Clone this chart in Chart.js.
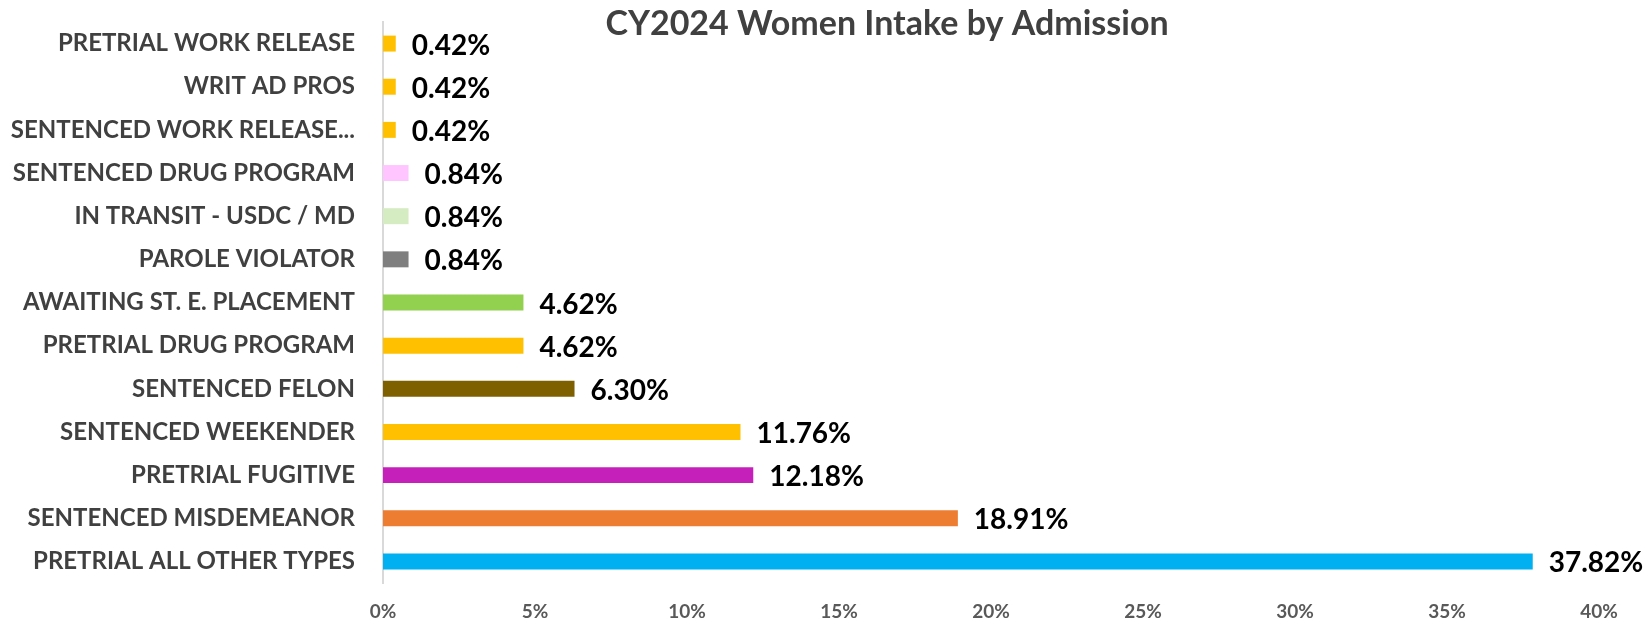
<!DOCTYPE html>
<html>
<head>
<meta charset="utf-8">
<script src="https://cdn.jsdelivr.net/npm/chart.js@4.4.1/dist/chart.umd.min.js"></script>
<style>
  html, body { margin: 0; padding: 0; background: #ffffff; }
  #wrap { position: relative; width: 1650px; height: 625px; }
</style>
</head>
<body>
<div id="wrap"><canvas id="c" width="1650" height="625"></canvas></div>
<script>
const chartTitle = 'CY2024 Women Intake by Admission';
const categories = [
  'PRETRIAL WORK RELEASE',
  'WRIT AD PROS',
  'SENTENCED WORK RELEASE...',
  'SENTENCED DRUG PROGRAM',
  'IN TRANSIT - USDC / MD',
  'PAROLE VIOLATOR',
  'AWAITING ST. E. PLACEMENT',
  'PRETRIAL DRUG PROGRAM',
  'SENTENCED FELON',
  'SENTENCED WEEKENDER',
  'PRETRIAL FUGITIVE',
  'SENTENCED MISDEMEANOR',
  'PRETRIAL ALL OTHER TYPES'
];
const percentValues = [0.42, 0.42, 0.42, 0.84, 0.84, 0.84, 4.62, 4.62, 6.30, 11.76, 12.18, 18.91, 37.82];
const barColors = [
  '#FFC000', '#FFC000', '#FFC000', '#FFC5FF', '#D5EBC1', '#7F7F7F',
  '#92D050', '#FFC000', '#7F6000', '#FFC000', '#C520B9', '#ED7D31', '#00B0F0'
];
const xTickValues = [0, 5, 10, 15, 20, 25, 30, 35, 40];

const FONT = 'Lato, "Open Sans", sans-serif';

const valueLabels = {
  id: 'valueLabels',
  afterDatasetsDraw(chart) {
    const ctx = chart.ctx;
    const meta = chart.getDatasetMeta(0);
    ctx.save();
    ctx.font = 'bold 28px ' + FONT;
    ctx.fillStyle = '#000000';
    ctx.textAlign = 'left';
    ctx.textBaseline = 'middle';
    meta.data.forEach((bar, i) => {
      ctx.fillText(percentValues[i].toFixed(2) + '%', bar.x + 16, bar.y + 2);
    });
    ctx.restore();
  }
};

const titlePlugin = {
  id: 'overlayTitle',
  afterDraw(chart) {
    const ctx = chart.ctx;
    ctx.save();
    ctx.font = 'bold 34px ' + FONT;
    ctx.fillStyle = '#404040';
    ctx.textAlign = 'center';
    ctx.textBaseline = 'middle';
    ctx.fillText(chartTitle, 887, 24);
    ctx.restore();
  }
};

new Chart(document.getElementById('c'), {
  type: 'bar',
  data: {
    labels: categories,
    datasets: [{
      data: percentValues,
      backgroundColor: barColors,
      borderWidth: 0,
      barPercentage: 0.37,
      categoryPercentage: 1.0
    }]
  },
  options: {
    indexAxis: 'y',
    responsive: false,
    animation: false,
    layout: { padding: { top: 22, right: 51, left: 0, bottom: 0 } },
    plugins: { legend: { display: false }, tooltip: { enabled: false }, title: { display: false } },
    scales: {
      x: {
        min: 0, max: 40,
        afterBuildTicks(scale) { scale.ticks = xTickValues.map(v => ({ value: v })); },
        afterFit(scale) { scale.height = 42; scale.paddingLeft = 0; scale.paddingRight = 0; },
        grid: { display: false, drawTicks: false },
        border: { display: false },
        ticks: {
          padding: 17,
          color: '#595959',
          font: { family: FONT, size: 19, weight: 'bold' },
          callback: v => v + '%'
        }
      },
      y: {
        afterFit(scale) { scale.width = 383; scale.paddingTop = 0; scale.paddingBottom = 0; },
        grid: { display: false, drawTicks: false },
        border: { display: true, color: '#D9D9D9', width: 2 },
        ticks: {
          padding: 28,
          color: '#404040',
          font: { family: FONT, size: 24, weight: 'bold' }
        }
      }
    }
  },
  plugins: [valueLabels, titlePlugin]
});
</script>
</body>
</html>
